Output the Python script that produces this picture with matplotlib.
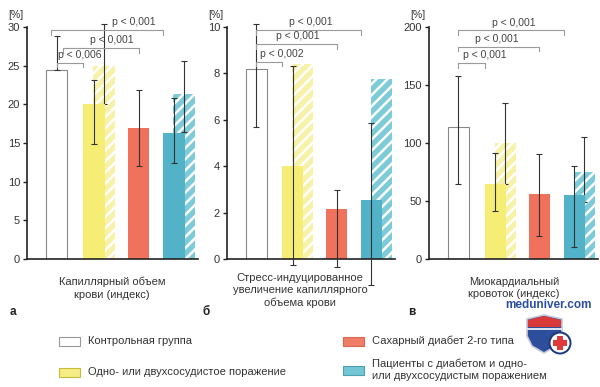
import numpy as np
import matplotlib
matplotlib.use("Agg")
import matplotlib.pyplot as plt
from matplotlib.patches import Rectangle, Polygon, Circle

plt.rcParams['font.family'] = ['Liberation Sans', 'DejaVu Sans']
plt.rcParams['hatch.linewidth'] = 1.8

# группы (легенда)
groups = ['Контрольная группа',
          'Одно- или двухсосудистое поражение',
          'Сахарный диабет 2-го типа',
          'Пациенты с диабетом и одно-\nили двухсосудистым поражением']

# а - капиллярный объем крови
a_mean = [24.5, 20.1, 16.9, 16.3]
a_low = [24.5, 14.9, 12.0, 12.4]
a_high = [28.8, 23.2, 21.9, 20.8]
a_hatch_mean = [25.0, 21.3]      # желтая и голубая штриховка
a_hatch_low = [20.1, 16.4]
a_hatch_high = [30.4, 25.6]
a_p = ['p < 0,006', 'p < 0,001', 'p < 0,001']
a_p_level = [25.4, 27.3, 29.6]

# б - стресс-индуцированное увеличение
b_mean = [8.18, 4.0, 2.15, 2.55]
b_low = [5.7, -0.25, -0.36, -1.1]
b_high = [10.15, 8.3, 2.98, 5.85]
b_hatch_mean = [8.42, 7.75]
b_hatch_low = [np.nan, np.nan]
b_hatch_high = [np.nan, np.nan]
b_p = ['p < 0,002', 'p < 0,001', 'p < 0,001']
b_p_level = [8.5, 9.27, 9.87]

# в - миокардиальный кровоток
c_mean = [113.5, 64.8, 55.9, 55.3]
c_low = [65, 41.8, 19.5, 10.6]
c_high = [157.6, 91.7, 90.3, 80.2]
c_hatch_mean = [99.7, 74.8]
c_hatch_low = [65, 49.3]
c_hatch_high = [134.7, 104.9]
c_p = ['p < 0,001', 'p < 0,001', 'p < 0,001']
c_p_level = [169, 183, 197]

solid_colors = ['white', '#f6ee74', '#f0715c', '#52b2c7']
hatch_colors = ['#f8f2a8', '#7dcbd9']
legend_colors = ['white', '#f5ec85', '#ef7e69', '#72c6d6']
txt = '#333333'

W, H = 600, 387
fig = plt.figure(figsize=(6, 3.87), dpi=100)

pos = np.array([0, 1, 2.2, 3.15])
width = 0.57
hoff = 0.27


def px_axes(x0, x1, y0=27, y1=259):
    return fig.add_axes([x0 / W, 1 - y1 / H, (x1 - x0) / W, (y1 - y0) / H])


def panel(ax, mean, low, high, hmean, hlow, hhigh, ymax, step, pvals, plevel, plabx):
    mean = np.array(mean)
    err = [mean - np.array(low), np.array(high) - mean]
    hmean = np.array(hmean)
    herr = [hmean - np.array(hlow), np.array(hhigh) - hmean]
    hpos = pos[[1, 3]] + hoff

    ax.bar(hpos, hmean, width, color=hatch_colors, edgecolor='white',
           hatch='///', linewidth=0, zorder=1)
    ax.errorbar(hpos, hmean, yerr=herr, fmt='none', ecolor='#333333',
                elinewidth=0.8, capsize=2, capthick=0.8, zorder=1.5, clip_on=False)
    ax.bar(pos, mean, width, color=solid_colors,
           edgecolor=['#888888', 'none', 'none', 'none'], linewidth=0.8, zorder=2)
    ax.errorbar(pos, mean, yerr=err, fmt='none', ecolor='#333333',
                elinewidth=0.8, capsize=2, capthick=0.8, zorder=3, clip_on=False)

    # скобки значимости
    ends = [pos[1] - width / 2, pos[2], pos[3] - width / 2]
    lefts = plabx[3]
    tick = 0.02 * ymax
    for i in range(3):
        l = lefts[i]
        r = ends[i]
        ax.plot([l, l, r, r], [plevel[i] - tick, plevel[i], plevel[i], plevel[i] - tick],
                color='#9a9a9a', lw=0.8, zorder=4, clip_on=False)
    for i in range(3):
        ax.text(plabx[i], plevel[i] + 0.012 * ymax, pvals[i], ha='center', va='bottom',
                fontsize=7.5, color='#444444', zorder=5)

    ax.set_xlim(-0.8, -0.8 + 170 / 37)
    ax.set_ylim(0, ymax)
    ax.set_yticks(np.arange(0, ymax + step / 2, step))
    ax.set_xticks([])
    for s in ['top', 'right']:
        ax.spines[s].set_visible(False)
    for s in ['left', 'bottom']:
        ax.spines[s].set_color('#222222')
        ax.spines[s].set_linewidth(1.2)
    ax.tick_params(axis='y', length=3, width=1, color='#222222', labelsize=8,
                   labelcolor=txt, pad=2)
    ax.set_facecolor('none')


ax_a = px_axes(27, 198)
ax_b = px_axes(227, 395)
ax_c = px_axes(429, 598)

panel(ax_a, a_mean, a_low, a_high, a_hatch_mean, a_hatch_low, a_hatch_high,
      30, 5, a_p, a_p_level, [0.63, 1.47, 2.06, [0, 0.16, -0.16]])
panel(ax_b, b_mean, b_low, b_high, b_hatch_mean, b_hatch_low, b_hatch_high,
      10, 2, b_p, b_p_level, [0.69, 1.15, 1.48, [0, 0, 0]])
panel(ax_c, c_mean, c_low, c_high, c_hatch_mean, c_hatch_low, c_hatch_high,
      200, 50, c_p, c_p_level, [0.71, 1.04, 1.5, [0, 0, 0]])

# фон для подписей, координаты в пикселях
bg = fig.add_axes([0, 0, 1, 1], zorder=-1)
bg.set_xlim(0, W)
bg.set_ylim(H, 0)
bg.axis('off')

for x in [16, 216, 418]:
    bg.text(x, 15, '[%]', ha='center', va='center', fontsize=7.5, color=txt)

bg.text(112, 277, 'Капиллярный объем\nкрови (индекс)', ha='center', va='top',
        fontsize=8, color=txt, linespacing=1.3)
bg.text(300, 273, 'Стресс-индуцированное\nувеличение капиллярного\nобъема крови',
        ha='center', va='top', fontsize=8, color=txt, linespacing=1.3)
bg.text(514, 277, 'Миокардиальный\nкровоток (индекс)', ha='center', va='top',
        fontsize=8, color=txt, linespacing=1.3)

for x, s in [(13, 'а'), (206, 'б'), (412, 'в')]:
    bg.text(x, 312, s, ha='center', va='center', fontsize=8.5, color='#222222',
            fontweight='bold')

# легенда
leg_xy = [(59, 341), (59, 372), (343, 341), (343, 370)]
edges = ['#999999', '#c9bb3c', '#d9664f', '#4f9fb0']
for i, (x, y) in enumerate(leg_xy):
    bg.add_patch(Rectangle((x, y - 4.5), 21, 9, facecolor=legend_colors[i],
                           edgecolor=edges[i], lw=0.8))
    bg.text(x + 29, y, groups[i], ha='left', va='center', fontsize=8, color=txt,
            linespacing=1.2)

# водяной знак
bg.text(548, 305, 'meduniver.com', ha='center', va='center', fontsize=8.5,
        color='#2b4f9e', fontweight='bold')
shield = [(527, 319), (544, 315), (562, 319), (562, 336), (556, 346),
          (544, 353), (532, 346), (527, 336)]
bg.add_patch(Polygon(shield, closed=True, facecolor='#2d4f9b', edgecolor='#c8c8d8', lw=1.2))
bg.add_patch(Polygon([(528, 320), (544, 316), (561, 320), (561, 327), (528, 327)],
                     closed=True, facecolor='#d83a3a', edgecolor='none'))
bg.plot([528, 561], [328.5, 328.5], color='white', lw=1.2)
bg.add_patch(Circle((560, 343), 11.5, facecolor='#1f3a7a', edgecolor='none'))
bg.add_patch(Circle((560, 343), 9.5, facecolor='white', edgecolor='none'))
bg.add_patch(Rectangle((557, 336), 6, 14, facecolor='#e03a3a', edgecolor='none'))
bg.add_patch(Rectangle((553, 340), 14, 6, facecolor='#e03a3a', edgecolor='none'))

fig.savefig('out.png', dpi=100)
